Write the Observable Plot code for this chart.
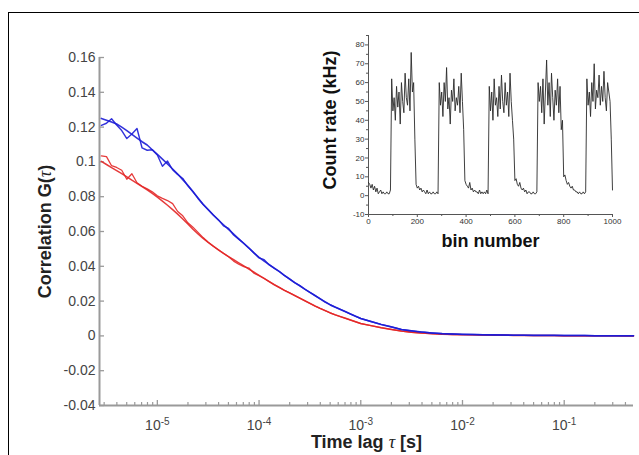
<!DOCTYPE html>
<html><head><meta charset="utf-8">
<script src="https://cdn.jsdelivr.net/npm/d3@7"></script>
<script src="https://cdn.jsdelivr.net/npm/@observablehq/plot@0.6"></script>
<style>
body{margin:0;background:#fff;}
#wrap{position:relative;width:639px;height:455px;overflow:hidden;}
#frame{position:absolute;left:8px;top:12px;width:700px;height:500px;border-top:1.5px solid #000;border-left:1.5px solid #000;pointer-events:none;}
#main,#inset{position:absolute;}
#main{left:0;top:0;}
#inset{left:320px;top:20px;}
</style></head><body>
<div id="wrap"><div id="main"></div><div id="inset"></div><div id="frame"></div></div>
<script>
// ---- main chart data: lag time tau [s] and correlation values ----
const tau = [
  2.818e-6,3.162e-6,3.548e-6,3.981e-6,4.467e-6,5.012e-6,5.623e-6,6.310e-6,7.079e-6,7.943e-6,8.913e-6,1.000e-5,
  1.122e-5,1.259e-5,1.413e-5,1.585e-5,1.778e-5,1.995e-5,2.239e-5,2.512e-5,2.818e-5,3.162e-5,3.548e-5,3.981e-5,4.467e-5,5.012e-5,5.623e-5,6.310e-5,7.079e-5,7.943e-5,8.913e-5,1.000e-4,
  1.122e-4,1.259e-4,1.413e-4,1.585e-4,1.778e-4,1.995e-4,2.239e-4,2.512e-4,2.818e-4,3.162e-4,3.548e-4,3.981e-4,4.467e-4,5.012e-4,5.623e-4,6.310e-4,7.079e-4,7.943e-4,8.913e-4,1.000e-3,
  1.259e-3,1.585e-3,1.995e-3,2.512e-3,3.162e-3,3.981e-3,5.012e-3,6.310e-3,7.943e-3,1.000e-2,1.259e-2,1.585e-2,1.995e-2,2.512e-2,3.162e-2,3.981e-2,5.012e-2,6.310e-2,7.943e-2,1.000e-1,0.1259,0.1585,0.1995,0.2512,0.3162,0.3981,0.48
];
const blueData = [
  0.1210,0.1222,0.1248,0.1212,0.1180,0.1134,0.1160,0.1192,0.1080,0.1067,0.1070,0.1040,
  0.0975,0.1005,0.0955,0.0928,0.0905,0.0862,0.0828,0.0790,0.0755,0.0726,0.0695,0.0668,0.0632,0.0618,0.0580,0.0556,0.0532,0.0505,0.0476,0.0448,
  0.0438,0.0408,0.0388,0.0370,0.0346,0.0327,0.0306,0.0289,0.0268,0.0250,0.0232,0.0214,0.0195,0.0179,0.0165,0.0152,0.0139,0.0125,0.0112,0.0100,
  0.0083,0.0066,0.0052,0.0037,0.0029,0.0022,0.0017,0.0013,0.0011,0.0009,0.0008,0.0007,0.0006,0.0005,0.0004,0.0004,0.0003,0.0003,0.0003,0.0002,0.0002,0.0002,0.0001,0.0001,0.0001,0.0001,0.0001
];
const blueFit = [
  0.1250,0.1240,0.1229,0.1218,0.1200,0.1180,0.1158,0.1137,0.1116,0.1097,0.1070,0.1043,
  0.1016,0.0988,0.0959,0.0930,0.0898,0.0866,0.0830,0.0793,0.0757,0.0725,0.0695,0.0666,0.0639,0.0612,0.0585,0.0558,0.0531,0.0505,0.0477,0.0451,
  0.0430,0.0410,0.0390,0.0369,0.0348,0.0327,0.0306,0.0288,0.0269,0.0250,0.0232,0.0213,0.0195,0.0178,0.0165,0.0152,0.0139,0.0126,0.0113,0.0100,
  0.0083,0.0066,0.0052,0.0037,0.0029,0.0022,0.0017,0.0013,0.0011,0.0009,0.0008,0.0007,0.0006,0.0005,0.0004,0.0004,0.0003,0.0003,0.0003,0.0002,0.0002,0.0002,0.0001,0.0001,0.0001,0.0001,0.0001
];
const redData = [
  0.1035,0.1030,0.0978,0.0968,0.0952,0.0900,0.0932,0.0880,0.0860,0.0845,0.0828,0.0805,
  0.0790,0.0778,0.0760,0.0715,0.0690,0.0650,0.0625,0.0595,0.0565,0.0538,0.0515,0.0495,0.0475,0.0455,0.0430,0.0412,0.0398,0.0390,0.0360,0.0346,
  0.0330,0.0312,0.0294,0.0278,0.0262,0.0247,0.0232,0.0217,0.0202,0.0187,0.0172,0.0158,0.0145,0.0132,0.0121,0.0111,0.0101,0.0091,0.0081,0.0071,
  0.0059,0.0047,0.0037,0.0028,0.0021,0.0016,0.0013,0.0010,0.0008,0.0007,0.0006,0.0005,0.0004,0.0004,0.0003,0.0003,0.0002,0.0002,0.0002,0.0001,0.0001,0.0001,0.0001,0.0001,0.0001,0.0000,0.0000
];
const redFit = [
  0.1003,0.0985,0.0967,0.0950,0.0932,0.0914,0.0895,0.0877,0.0858,0.0839,0.0819,0.0798,
  0.0775,0.0751,0.0726,0.0700,0.0672,0.0643,0.0613,0.0586,0.0560,0.0537,0.0516,0.0495,0.0474,0.0456,0.0438,0.0420,0.0402,0.0384,0.0366,0.0348,
  0.0330,0.0312,0.0294,0.0278,0.0262,0.0247,0.0232,0.0217,0.0202,0.0187,0.0172,0.0158,0.0145,0.0132,0.0121,0.0111,0.0101,0.0091,0.0081,0.0071,
  0.0059,0.0047,0.0037,0.0028,0.0021,0.0016,0.0013,0.0010,0.0008,0.0007,0.0006,0.0005,0.0004,0.0004,0.0003,0.0003,0.0002,0.0002,0.0002,0.0001,0.0001,0.0001,0.0001,0.0001,0.0001,0.0000,0.0000
];
const xDomain = [2.7e-6, 0.48];
const yDomain = [-0.04, 0.16];
const xMajorTicks = [1e-5, 1e-4, 1e-3, 1e-2, 1e-1];
const yTicks = [-0.04, -0.02, 0, 0.02, 0.04, 0.06, 0.08, 0.1, 0.12, 0.14, 0.16];
const xLabel = "Time lag τ [s]";
const yLabel = "Correlation G(τ)";

// ---- inset data: count rate (kHz) every 5 bins, bins 0..1000 ----
const binStep = 5;
const countRate = [
  7,6,4,6,3,5,2,4,1,2,3,1,2,1,1,2,1,1,
  3,62,45,52,40,58,47,55,38,60,50,44,65,52,48,62,45,76,55,60,30,
  6,4,5,3,4,2,3,2,1,3,1,2,1,1,2,1,1,2,1,
  60,48,55,42,60,50,68,46,52,38,56,50,62,45,52,48,58,44,65,50,35,
  8,6,5,4,7,3,4,2,3,2,2,1,3,1,2,1,2,1,3,1,
  58,45,55,40,62,48,52,42,58,46,64,50,44,60,48,55,42,65,50,40,30,
  8,9,6,5,7,4,3,4,2,3,1,2,2,1,1,2,1,1,2,
  60,50,58,44,62,38,55,72,48,60,42,65,52,40,56,48,62,44,58,35,40,
  10,11,8,6,7,5,4,5,3,3,2,2,1,2,1,1,2,1,2,
  62,48,55,42,60,50,70,46,56,52,64,48,58,50,66,52,45,60,55,50,30,
  3
];
const insetXTicks = [0, 200, 400, 600, 800, 1000];
const insetXMinor = [100, 300, 500, 700, 900];
const insetYTicks = [-10, 0, 10, 20, 30, 40, 50, 60, 70, 80];
const insetYMinor = [-5, 5, 15, 25, 35, 45, 55, 65, 75, 85];
const insetXLabel = "bin number";
const insetYLabel = "Count rate (kHz)";

const BLUE = "#1c1cd6", RED = "#e32626", AXIS = "#9a9a9a";
const FONT = "Liberation Sans, Arial, Helvetica, sans-serif";

// minor decade ticks
const xMinorTicks = [];
for (let e = -6; e <= 0; e++) for (let m = 2; m <= 9; m++) {
  const v = m * Math.pow(10, e);
  if (v >= xDomain[0] && v <= xDomain[1]) xMinorTicks.push(v);
}

const W = 639, H = 455, mL = 99, mR = 6, mT = 57, mB = 50;
const frameW = W - mL - mR, frameH = H - mT - mB;
const rowsOf = arr => tau.map((t, i) => ({tau: t, g: arr[i]}));

const main = Plot.plot({
  width: W, height: H,
  marginLeft: mL, marginRight: mR, marginTop: mT, marginBottom: mB,
  style: {fontFamily: FONT, background: "transparent", color: "#444"},
  x: {type: "log", domain: xDomain},
  y: {domain: yDomain},
  marks: [
    Plot.ruleY([yDomain[0]], {stroke: AXIS, strokeWidth: 2}),
    Plot.ruleX([xDomain[0]], {stroke: AXIS, strokeWidth: 2}),
    Plot.tickX(xMajorTicks, {x: d => d, insetTop: frameH - 5, stroke: AXIS, strokeWidth: 1.3}),
    Plot.tickX(xMinorTicks, {x: d => d, insetTop: frameH - 3, stroke: AXIS, strokeWidth: 1.2}),
    Plot.tickY(yTicks, {y: d => d, insetRight: frameW - 5, stroke: AXIS, strokeWidth: 1.3}),
    Plot.axisX(xMajorTicks, {tickSize: 0, tickPadding: 15, fontSize: 14, label: null,
      tickFormat: d => "10^" + Math.round(Math.log10(d))}),
    Plot.axisY(yTicks, {tickSize: 0, tickPadding: 4, fontSize: 14, label: null,
      tickFormat: d => String(+d.toFixed(2))}),
    Plot.line(rowsOf(redFit), {x: "tau", y: "g", stroke: RED, strokeWidth: 1.5, strokeOpacity: 0.9}),
    Plot.line(rowsOf(redData), {x: "tau", y: "g", stroke: RED, strokeWidth: 1.3, strokeOpacity: 0.9}),
    Plot.line(rowsOf(blueFit), {x: "tau", y: "g", stroke: BLUE, strokeWidth: 1.6, strokeOpacity: 0.9}),
    Plot.line(rowsOf(blueData), {x: "tau", y: "g", stroke: BLUE, strokeWidth: 1.4, strokeOpacity: 0.9}),
    Plot.text([yLabel], {frameAnchor: "left", dx: -54, rotate: -90, textAnchor: "middle", lineAnchor: "middle",
      fontSize: 18, fontWeight: "bold", fill: "#222"}),
    Plot.text([xLabel], {frameAnchor: "bottom", dy: 37, textAnchor: "middle", lineAnchor: "middle",
      fontSize: 18, fontWeight: "bold", fill: "#222"})
  ]
});
document.getElementById("main").appendChild(main);

// superscript exponents on the log axis
d3.select(main).selectAll('g[aria-label="x-axis tick label"] text').each(function () {
  const t = this.textContent;
  const e = t.split("^")[1];
  const s = d3.select(this);
  s.text("10");
  s.append("tspan").attr("dy", "-0.5em").attr("font-size", "10px").text(e);
});
// italic tau
d3.select(main).selectAll("text").each(function () {
  const t = this.textContent;
  if (!t.includes("τ") || this.querySelector("tspan")) return;
  const parts = t.split("τ");
  const s = d3.select(this);
  s.text(null);
  parts.forEach((p, i) => {
    s.append("tspan").text(p);
    if (i < parts.length - 1) s.append("tspan").attr("font-style", "italic").attr("font-weight", "normal")
      .attr("font-family", "Liberation Serif, DejaVu Serif, serif").text("τ");
  });
});

// ---- inset ----
const IW = 310, IH = 240, iL = 48, iR = 18, iT = 15, iB = 46;
const counts = countRate.map((c, i) => ({bin: i * binStep, rate: c}));
const inset = Plot.plot({
  width: IW, height: IH, marginLeft: iL, marginRight: iR, marginTop: iT, marginBottom: iB,
  style: {fontFamily: FONT, background: "transparent", color: "#333"},
  x: {domain: [0, 1000]},
  y: {domain: [-10, 85]},
  marks: [
    Plot.ruleX([0], {stroke: "#555", strokeWidth: 1}),
    Plot.ruleY([-10], {stroke: "#555", strokeWidth: 1}),
    Plot.axisY(insetYTicks, {tickSize: 3, tickPadding: 1, fontSize: 8, label: null, stroke: "#555", tickFormat: d => String(d)}),
    Plot.axisY(insetYMinor, {tickSize: 2, tickFormat: () => "", label: null, stroke: "#555"}),
    Plot.axisX(insetXTicks, {tickSize: 3, tickPadding: 1, fontSize: 8, label: null, stroke: "#555", tickFormat: d => String(d)}),
    Plot.axisX(insetXMinor, {tickSize: 2, tickFormat: () => "", label: null, stroke: "#555"}),
    Plot.line(counts, {x: "bin", y: "rate", stroke: "#2a2a2a", strokeWidth: 0.9}),
    Plot.text([insetYLabel], {frameAnchor: "left", dx: -38, dy: -5, rotate: -90, textAnchor: "middle", lineAnchor: "middle",
      fontSize: 18, fontWeight: "bold", fill: "#111"}),
    Plot.text([insetXLabel], {frameAnchor: "bottom", dy: 27, textAnchor: "middle", lineAnchor: "middle",
      fontSize: 18, fontWeight: "bold", fill: "#111"})
  ]
});
document.getElementById("inset").appendChild(inset);
</script>
</body></html>
